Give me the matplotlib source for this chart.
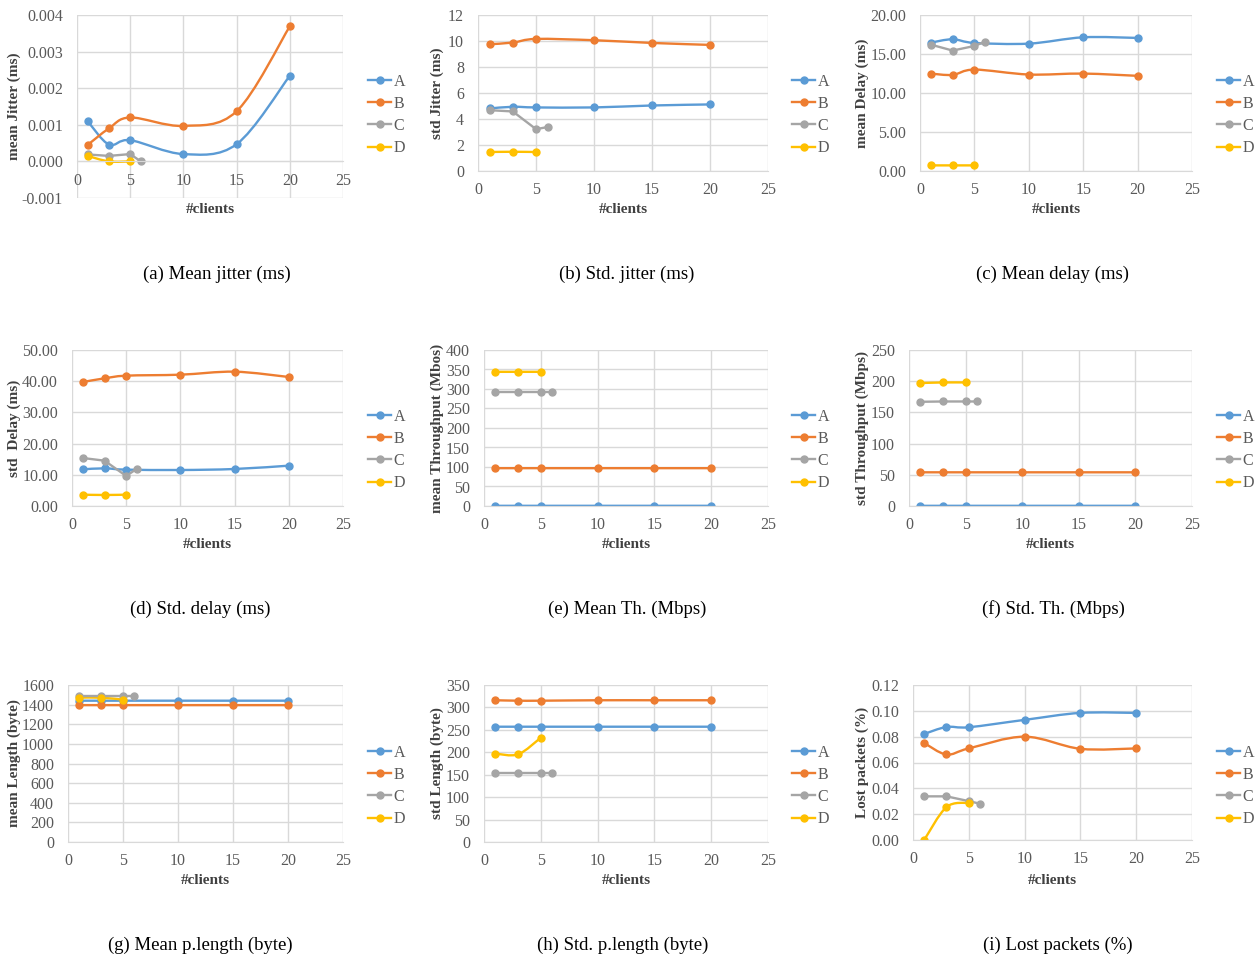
import numpy as np
import matplotlib
matplotlib.use("Agg")
import matplotlib.pyplot as plt
from matplotlib.path import Path
from matplotlib.patches import PathPatch
from matplotlib.lines import Line2D
from matplotlib.ticker import FormatStrFormatter

plt.rcParams['font.family'] = ['Liberation Serif', 'DejaVu Serif']

# x values (#clients) per series
x_ab = [1, 3, 5, 10, 15, 20]
x_c = [1, 3, 5, 6]
x_d = [1, 3, 5]

# (a) mean jitter (ms)
jit_mean_a = [0.00110, 0.00046, 0.00058, 0.00020, 0.00047, 0.00234]
jit_mean_b = [0.00045, 0.00090, 0.00120, 0.00097, 0.00137, 0.00369]
jit_mean_c = [0.00019, 0.00015, 0.00020, 0.00000]
jit_mean_d = [0.00015, 0.00000, 0.00000]

# (b) std jitter (ms)
jit_std_a = [4.81, 4.94, 4.89, 4.89, 5.04, 5.12]
jit_std_b = [9.75, 9.88, 10.16, 10.06, 9.85, 9.70]
jit_std_c = [4.68, 4.58, 3.22, 3.38]
jit_std_d = [1.46, 1.48, 1.46]

# (c) mean delay (ms)
del_mean_a = [16.46, 16.89, 16.42, 16.33, 17.14, 17.06]
del_mean_b = [12.49, 12.32, 13.00, 12.37, 12.49, 12.20]
del_mean_c = [16.20, 15.44, 16.03, 16.59]
del_mean_d = [0.72, 0.72, 0.72]

# (d) std delay (ms)
del_std_a = [11.75, 12.07, 11.65, 11.54, 11.86, 12.93]
del_std_b = [39.74, 40.92, 41.77, 42.09, 43.05, 41.35]
del_std_c = [15.38, 14.53, 9.62, 11.97]
del_std_d = [3.63, 3.53, 3.63]

# (e) mean throughput (Mbps)
th_mean_a = [0.5, 0.5, 0.5, 0.5, 0.5, 0.5]
th_mean_b = [97, 97, 97, 97, 97, 97]
th_mean_c = [292, 292, 292, 292]
th_mean_d = [344, 344, 344]

# (f) std throughput (Mbps)
th_std_a = [0.3, 0.3, 0.3, 0.3, 0.3, 0.3]
th_std_b = [54, 54, 54, 54, 54, 54]
th_std_c = [167, 167.5, 167.5, 167.5]
th_std_d = [197, 198, 198]

# (g) mean packet length (byte)
len_mean_a = [1440, 1440, 1440, 1440, 1440, 1440]
len_mean_b = [1395, 1395, 1395, 1395, 1395, 1395]
len_mean_c = [1488, 1488, 1488, 1488]
len_mean_d = [1471, 1471, 1451]

# (h) std packet length (byte)
len_std_a = [257, 257, 257, 257, 257, 257]
len_std_b = [316, 315, 315, 316, 316, 316]
len_std_c = [153, 153, 153, 153]
len_std_d = [197, 195.5, 232.5]

# (i) lost packets (%)
lost_a = [0.0821, 0.0875, 0.0873, 0.0930, 0.0984, 0.0984]
lost_b = [0.0751, 0.0662, 0.0709, 0.0800, 0.0706, 0.0709]
lost_c = [0.0338, 0.0338, 0.0301, 0.0281]
lost_d = [0.0, 0.0255, 0.0288]

series_names = ['A', 'B', 'C', 'D']
colors = ['#5B9BD5', '#ED7D31', '#A5A5A5', '#FFC000']
smooth_flags = [True, True, False, True]

W, H = 1259, 963
fig = plt.figure(figsize=(W / 100, H / 100), dpi=100)

GRID = '#D9D9D9'
TICK = '#595959'


def smooth_path(xs, ys):
    # Excel-like smoothed line: cubic bezier through the points
    pts = np.column_stack([xs, ys]).astype(float)
    n = len(pts)
    verts = [pts[0]]
    codes = [Path.MOVETO]
    for i in range(n - 1):
        p0 = pts[i - 1] if i > 0 else pts[i]
        p1 = pts[i]
        p2 = pts[i + 1]
        p3 = pts[i + 2] if i + 2 < n else pts[i + 1]
        c1 = p1 + (p2 - p0) / 6.0
        c2 = p2 - (p3 - p1) / 6.0
        verts += [c1, c2, p2]
        codes += [Path.CURVE4] * 3
    return Path(verts, codes)


def px_axes(l, t, r, b):
    return fig.add_axes([l / W, 1 - b / H, (r - l) / W, (b - t) / H])


panels = [
    # plot box (l, t, r, b), ylim, ystep, fmt, ylabel, caption, ylabel x, caption x, data
    ((77, 15, 343, 198), (-0.001, 0.004), 0.001, '%.3f', 'mean Jitter (ms)',
     '(a) Mean jitter (ms)', 14, 217, [jit_mean_a, jit_mean_b, jit_mean_c, jit_mean_d]),
    ((478, 15, 768, 171), (0, 12), 2, '%d', 'std Jitter (ms)',
     '(b) Std. jitter (ms)', 437, 627, [jit_std_a, jit_std_b, jit_std_c, jit_std_d]),
    ((920, 15, 1192, 171), (0, 20), 5, '%.2f', 'mean Delay (ms)',
     '(c) Mean delay (ms)', 862, 1052, [del_mean_a, del_mean_b, del_mean_c, del_mean_d]),
    ((72, 350, 343, 506), (0, 50), 10, '%.2f', 'std  Delay (ms)',
     '(d) Std. delay (ms)', 14, 200, [del_std_a, del_std_b, del_std_c, del_std_d]),
    ((484, 350, 768, 506), (0, 400), 50, '%d', 'mean Throughput (Mbos)',
     '(e) Mean Th. (Mbps)', 437, 627, [th_mean_a, th_mean_b, th_mean_c, th_mean_d]),
    ((909, 350, 1192, 506), (0, 250), 50, '%d', 'std Throughput (Mbps)',
     '(f) Std. Th. (Mbps)', 862, 1053, [th_std_a, th_std_b, th_std_c, th_std_d]),
    ((68, 685, 343, 842), (0, 1600), 200, '%d', 'mean Length (byte)',
     '(g) Mean p.length (byte)', 14, 200, [len_mean_a, len_mean_b, len_mean_c, len_mean_d]),
    ((484, 685, 768, 842), (0, 350), 50, '%d', 'std Length (byte)',
     '(h) Std. p.length (byte)', 437, 623, [len_std_a, len_std_b, len_std_c, len_std_d]),
    ((913, 685, 1192, 840), (0, 0.12), 0.02, '%.2f', 'Lost packets (%)',
     '(i) Lost packets (%)', 862, 1058, [lost_a, lost_b, lost_c, lost_d]),
]

xs_all = [x_ab, x_ab, x_c, x_d]
legend_x = [368, 792, 1217]
legend_y = [115, 450, 786]
caption_y = [274, 609, 945]
xlabel_y = [209, 545, 880]

for k, (box, ylim, ystep, fmt, ylab, cap, ylx, capx, data) in enumerate(panels):
    row, col = divmod(k, 3)
    l, t, r, b = box
    ax = px_axes(l, t, r, b)
    ax.set_xlim(0, 25)
    ax.set_ylim(*ylim)
    ax.set_xticks(np.arange(0, 26, 5))
    ax.set_yticks(np.arange(ylim[0], ylim[1] + ystep / 2, ystep))
    ax.yaxis.set_major_formatter(FormatStrFormatter(fmt))
    ax.grid(True, color=GRID, lw=1.0)
    ax.set_axisbelow(True)
    for s in ['top', 'right', 'left']:
        ax.spines[s].set_visible(False)
    ax.spines['bottom'].set_color(GRID)
    ax.spines['bottom'].set_position(('data', 0))
    ax.tick_params(length=0, labelsize=11.5, colors=TICK)
    ax.tick_params(axis='y', pad=10)
    ax.tick_params(axis='x', pad=8)

    for xs, ys, c, sm in zip(xs_all, data, colors, smooth_flags):
        if sm:
            ax.add_patch(PathPatch(smooth_path(xs, ys), fill=False, edgecolor=c,
                                   lw=1.7, capstyle='round', joinstyle='round'))
        else:
            ax.plot(xs, ys, color=c, lw=1.7, solid_joinstyle='round')
        ax.plot(xs, ys, 'o', color=c, ms=5, mec=c)

    # axis labels
    fig.text((l + r) / 2 / W, 1 - xlabel_y[row] / H, '#clients', ha='center', va='center',
             fontsize=11, fontweight='bold', color='#404040')
    fig.text(ylx / W, 1 - (t + b) / 2 / H, ylab, ha='center', va='center', rotation=90,
             fontsize=11, fontweight='bold', color='#404040')
    fig.text(capx / W, 1 - caption_y[row] / H, cap, ha='center', va='center',
             fontsize=13.5, color='black')

    handles = [Line2D([], [], color=c, lw=1.7, marker='o', ms=5) for c in colors]
    ax.legend(handles, series_names, loc='center left',
              bbox_to_anchor=(legend_x[col] / W, 1 - legend_y[row] / H),
              bbox_transform=fig.transFigure, frameon=False, fontsize=11.5,
              handlelength=1.45, handletextpad=0.15, labelspacing=0.38,
              borderpad=0, borderaxespad=0, labelcolor=TICK)

fig.savefig('out.png', dpi=100)
